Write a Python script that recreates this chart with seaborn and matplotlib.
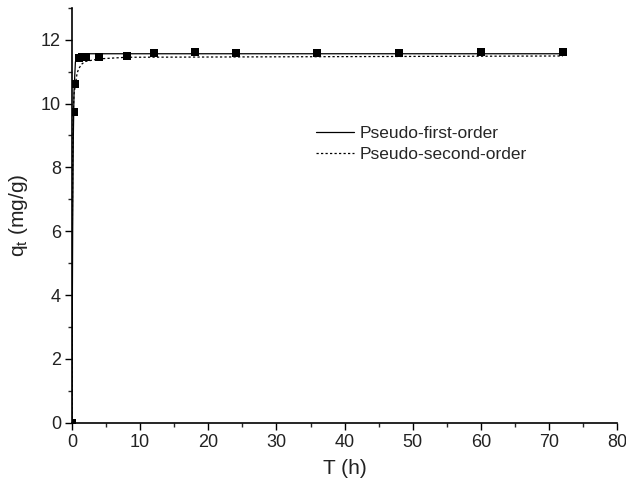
import matplotlib
matplotlib.use("Agg")
import matplotlib.pyplot as plt
import seaborn as sns
import pandas as pd
from matplotlib.ticker import MultipleLocator

# experimental data
t_exp = [0, 0.25, 0.5, 1, 1.5, 2, 4, 8, 12, 18, 24, 36, 48, 60, 72]
q_exp = [0, 9.75, 10.6, 11.43, 11.45, 11.45, 11.45, 11.5, 11.57, 11.6, 11.58, 11.58, 11.58, 11.6, 11.63]

# fitted curves
t_pfo = [0, 0.05, 0.1, 0.2, 0.3, 0.5, 0.75, 1, 1.5, 2, 4, 72]
q_pfo = [0, 3.6, 6.0, 9.0, 10.4, 11.3, 11.5, 11.54, 11.56, 11.56, 11.56, 11.56]
t_pso = [0, 0.05, 0.1, 0.2, 0.3, 0.5, 0.75, 1, 1.5, 2, 4, 8, 72]
q_pso = [0, 6.0, 8.3, 9.8, 10.3, 10.6, 10.95, 11.1, 11.25, 11.32, 11.4, 11.45, 11.49]

sns.set_style("ticks")
plt.rcParams['font.family'] = ['Liberation Sans', 'DejaVu Sans']
plt.rcParams['mathtext.fontset'] = 'custom'
plt.rcParams['mathtext.rm'] = 'Liberation Sans'

fig = plt.figure(figsize=(6.26, 4.86), dpi=100)
ax = fig.add_axes([0.115, 0.130, 0.871, 0.854])

df_pfo = pd.DataFrame({"t": t_pfo, "q": q_pfo})
df_pso = pd.DataFrame({"t": t_pso, "q": q_pso})
df_exp = pd.DataFrame({"t": t_exp, "q": q_exp})

sns.lineplot(data=df_pfo, x="t", y="q", ax=ax, color="black", lw=0.9,
             label="Pseudo-first-order", sort=False)
sns.lineplot(data=df_pso, x="t", y="q", ax=ax, color="black", lw=0.9,
             linestyle=(0, (1.8, 1.8)), label="Pseudo-second-order", sort=False)
sns.scatterplot(data=df_exp, x="t", y="q", ax=ax, marker="s", color="black",
                s=40, edgecolor="black", linewidth=0, zorder=5)

ax.set_xlim(0, 80)
ax.set_ylim(0, 13)
ax.xaxis.set_major_locator(MultipleLocator(10))
ax.xaxis.set_minor_locator(MultipleLocator(5))
ax.yaxis.set_major_locator(MultipleLocator(2))
ax.yaxis.set_minor_locator(MultipleLocator(1))
ax.tick_params(which="major", direction="out", length=5, width=1, labelsize=13,
               colors="black", labelcolor="#222222", pad=3)
ax.tick_params(which="minor", direction="out", length=3, width=1)
for s in ["top", "right"]:
    ax.spines[s].set_visible(False)
for s in ["left", "bottom"]:
    ax.spines[s].set_linewidth(1.2)
    ax.spines[s].set_color("black")

ax.set_xlabel("T (h)", fontsize=15, color="#222222", labelpad=6)
ax.set_ylabel(r"q$_\mathregular{t}$ (mg/g)", fontsize=15, color="#222222", labelpad=8)

ax.legend(loc="upper left", bbox_to_anchor=(0.448, 0.716), frameon=False,
          fontsize=12.5, handlelength=2.15, handletextpad=0.35, labelspacing=0.35,
          borderaxespad=0, borderpad=0)

fig.savefig("out.png", dpi=100)
